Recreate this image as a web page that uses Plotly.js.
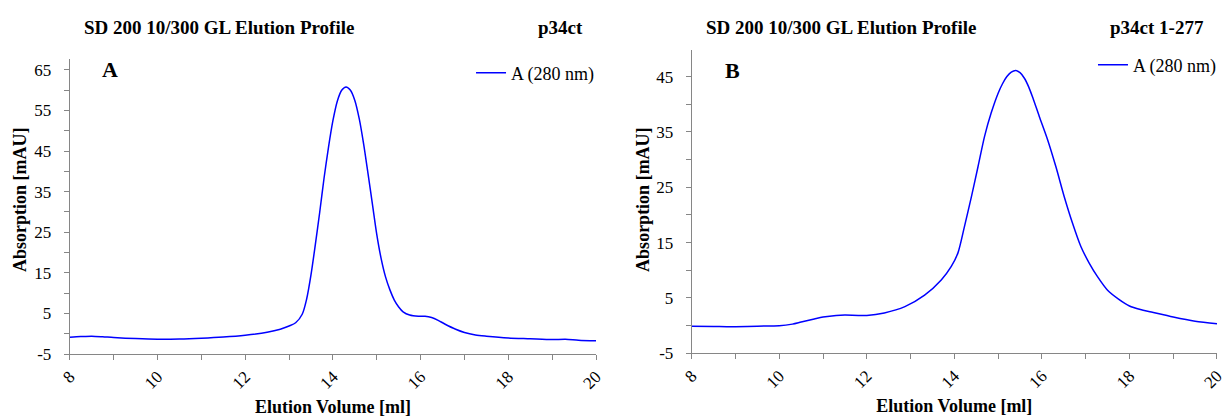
<!DOCTYPE html>
<html>
<head>
<meta charset="utf-8">
<script src="https://cdn.plot.ly/plotly-3.0.1.min.js"></script>
<style>html,body{margin:0;padding:0;background:#fff;}#chart{width:1222px;height:418px;}</style>
</head>
<body>
<div id="chart"></div>
<script>
// ---- Data ----
const volA = [8.0, 8.25, 8.5, 8.75, 9.0, 9.5, 10.0, 10.5, 11.0, 11.5, 12.0, 12.5, 12.8, 13.0, 13.15, 13.3, 13.4, 13.5, 13.6, 13.7, 13.8, 13.9, 14.0, 14.1, 14.2, 14.3, 14.4, 14.5, 14.6, 14.7, 14.8, 14.9, 15.0, 15.1, 15.2, 15.3, 15.4, 15.5, 15.6, 15.75, 15.95, 16.1, 16.25, 16.4, 16.55, 16.8, 17.0, 17.25, 17.5, 18.0, 18.5, 19.0, 19.3, 19.6, 20.0];
const absA = [-0.85, -0.7, -0.6, -0.75, -0.95, -1.2, -1.35, -1.3, -1.1, -0.8, -0.35, 0.35, 1.1, 1.9, 2.7, 4.8, 8.5, 14.5, 22.0, 30.0, 38.5, 46.0, 52.5, 57.3, 60.0, 60.8, 60.0, 57.5, 53.0, 46.8, 39.5, 32.0, 24.5, 18.5, 14.0, 10.8, 8.3, 6.6, 5.4, 4.6, 4.3, 4.3, 4.0, 3.3, 2.4, 1.1, 0.3, -0.3, -0.6, -1.05, -1.25, -1.45, -1.35, -1.6, -1.75];

const volB = [8.0, 8.5, 8.8, 9.0, 9.5, 10.0, 10.3, 10.5, 10.8, 11.0, 11.3, 11.5, 12.0, 12.4, 12.87, 13.32, 13.7, 13.93, 14.08, 14.23, 14.39, 14.54, 14.69, 14.84, 15.0, 15.1, 15.2, 15.3, 15.4, 15.5, 15.6, 15.7, 15.8, 15.94, 16.13, 16.32, 16.51, 16.7, 16.89, 17.08, 17.27, 17.5, 17.75, 18.0, 18.25, 18.5, 19.0, 19.5, 20.0];
const absB = [-0.1, -0.15, -0.2, -0.2, -0.1, -0.03, 0.27, 0.64, 1.2, 1.55, 1.85, 1.9, 1.85, 2.3, 3.43, 5.5, 8.25, 10.7, 13.1, 17.9, 23.3, 28.7, 34.2, 38.4, 42.0, 43.7, 45.0, 45.8, 46.1, 45.7, 44.7, 43.1, 41.0, 37.8, 33.6, 28.7, 23.3, 18.5, 14.3, 11.3, 8.85, 6.4, 4.8, 3.55, 2.9, 2.45, 1.55, 0.8, 0.33];

const xTickVals = [8, 9, 10, 11, 12, 13, 14, 15, 16, 17, 18, 19, 20];
const xTickText = ['8', '', '10', '', '12', '', '14', '', '16', '', '18', '', '20'];
const yTickValsA = [-5, 0, 5, 10, 15, 20, 25, 30, 35, 40, 45, 50, 55, 60, 65];
const yTickTextA = ['-5', '', '5', '', '15', '', '25', '', '35', '', '45', '', '55', '', '65'];
const yTickValsB = [-5, 0, 5, 10, 15, 20, 25, 30, 35, 40, 45];
const yTickTextB = ['-5', '', '5', '', '15', '', '25', '', '35', '', '45'];

const chartTitle = 'SD 200 10/300 GL Elution Profile';
const sampleA = 'p34ct';
const sampleB = 'p34ct 1-277';
const seriesName = 'A (280 nm)';
const xTitle = 'Elution Volume [ml]';
const yTitle = 'Absorption [mAU]';

// ---- Layout helpers ----
const W = 1222, H = 418;
const fx = v => v / W;
const fy = v => 1 - v / H;
const SERIF = 'Liberation Serif, Times New Roman, serif';
const AXC = '#868686';

const lineStyle = {color: '#0000ff', width: 1.5, shape: 'spline', smoothing: 0.8};

const traces = [
  {x: volA, y: absA, type: 'scatter', mode: 'lines', name: seriesName, line: lineStyle, xaxis: 'x', yaxis: 'y', legend: 'legend'},
  {x: volB, y: absB, type: 'scatter', mode: 'lines', name: seriesName, line: lineStyle, xaxis: 'x2', yaxis: 'y2', legend: 'legend2'}
];

function xAxis(dom, anchor) {
  return {
    domain: dom, anchor: anchor, range: [8, 20], tickmode: 'array', tickvals: xTickVals, ticktext: xTickText,
    tickangle: -45, showline: true, linecolor: AXC, linewidth: 1, ticks: 'outside', ticklen: 5, tickcolor: AXC,
    showgrid: false, zeroline: false, ticklabeloverflow: 'allow',
    tickfont: {family: SERIF, size: 17, color: '#000'},
    title: {text: '<b>' + xTitle + '</b>', font: {family: SERIF, size: 18, color: '#000'}, standoff: 8}
  };
}
function yAxis(dom, anchor, range, vals, text) {
  return {
    domain: dom, anchor: anchor, range: range, tickmode: 'array', tickvals: vals, ticktext: text,
    showline: true, linecolor: AXC, linewidth: 1, ticks: 'outside', ticklen: 5, tickcolor: AXC,
    showgrid: false, zeroline: false, tickfont: {family: SERIF, size: 17, color: '#000'}, ticklabelstandoff: 9
  };
}

const legendCommon = {
  font: {family: SERIF, size: 18, color: '#000'}, bgcolor: 'rgba(0,0,0,0)', borderwidth: 0,
  xanchor: 'right', yanchor: 'middle', itemwidth: 30, tracegroupgap: 0
};

function note(text, x, y, xanchor, size, angle) {
  return {text: text, xref: 'paper', yref: 'paper', x: fx(x), y: fy(y), xanchor: xanchor, yanchor: 'middle',
    showarrow: false, textangle: angle || 0, font: {family: SERIF, size: size, color: '#000'}};
}

const layout = {
  width: W, height: H, margin: {l: 0, r: 0, t: 0, b: 0},
  paper_bgcolor: '#fff', plot_bgcolor: '#fff',
  font: {family: SERIF, size: 17, color: '#000'},
  showlegend: true,
  xaxis: xAxis([fx(70), fx(598)], 'y'),
  yaxis: yAxis([fy(354), fy(59)], 'x', [-5, 67.7], yTickValsA, yTickTextA),
  xaxis2: xAxis([fx(694), fx(1221)], 'y2'),
  yaxis2: yAxis([fy(353.3), fy(50)], 'x2', [-5, 49.8], yTickValsB, yTickTextB),
  legend: Object.assign({}, legendCommon, {x: fx(602), y: fy(73)}),
  legend2: Object.assign({}, legendCommon, {x: fx(1226), y: fy(65)}),
  annotations: [
    note('<b>' + chartTitle + '</b>', 82, 27, 'left', 19),
    note('<b>' + sampleA + '</b>', 587, 27, 'right', 19),
    note('<b>' + chartTitle + '</b>', 706, 27, 'left', 19),
    note('<b>' + sampleB + '</b>', 1210, 27, 'right', 19),
    note('<b>A</b>', 110, 69, 'center', 22),
    note('<b>B</b>', 735, 70, 'center', 22),
    note('<b>' + yTitle + '</b>', 20, 199, 'center', 18, -90),
    note('<b>' + yTitle + '</b>', 645, 199, 'center', 18, -90)
  ]
};

Plotly.newPlot('chart', traces, layout, {displayModeBar: false, staticPlot: true});
</script>
</body>
</html>
